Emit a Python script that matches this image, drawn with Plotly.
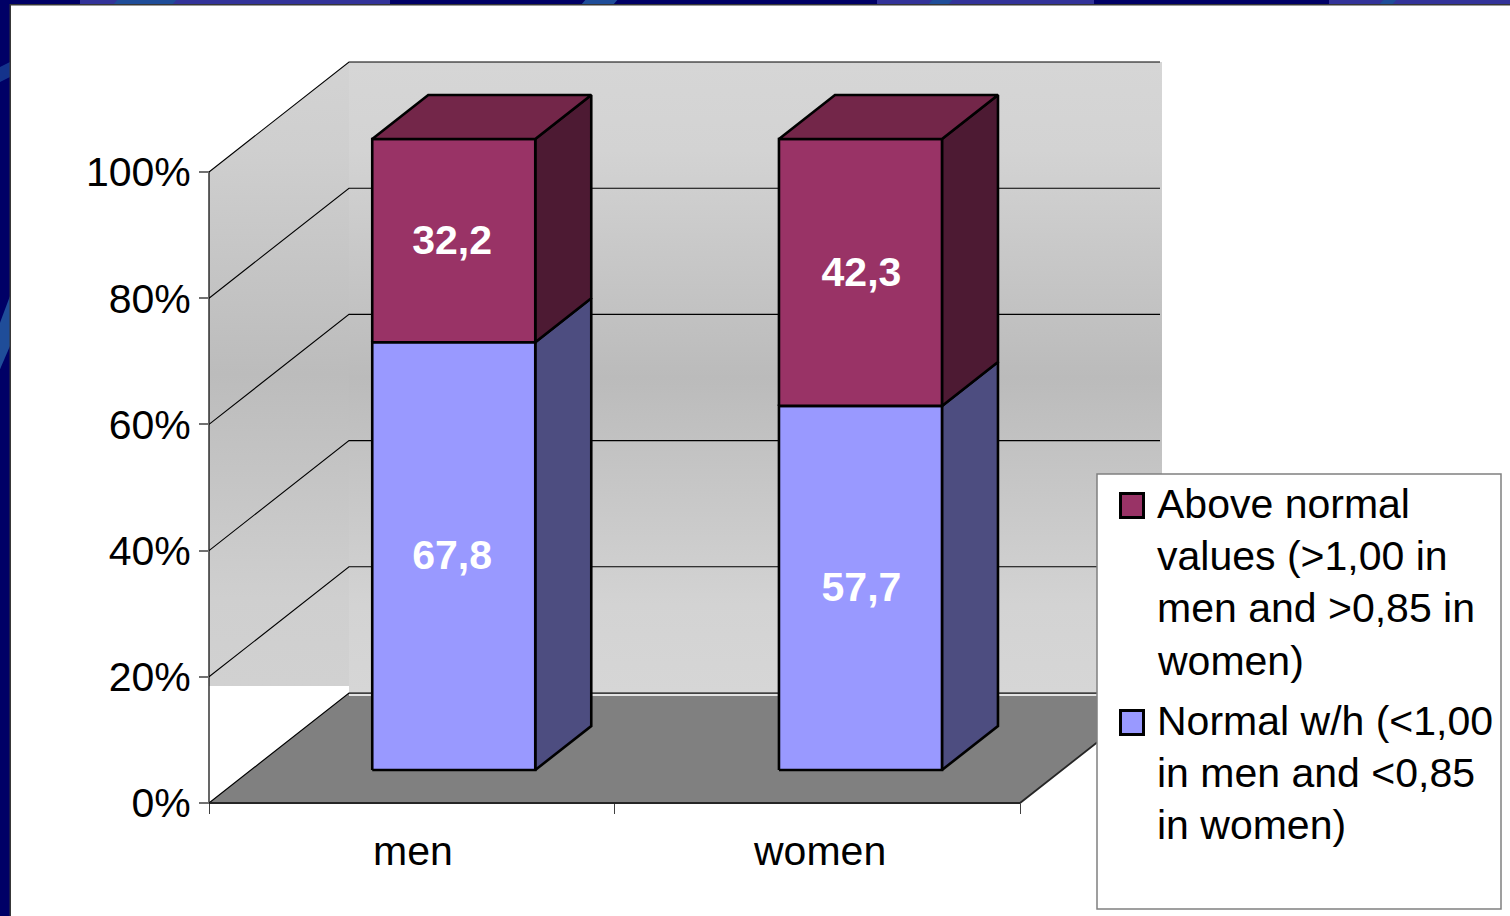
import plotly.graph_objects as go

# ---- chart data -------------------------------------------------------
categories = ["men", "women"]
normal_share = [67.8, 57.7]
above_share = [32.2, 42.3]
percent_ticks = [0, 20, 40, 60, 80, 100]
series_above = "Above normal values (>1,00 in men and >0,85 in women)"
series_normal = "Normal w/h (<1,00 in men and <0,85 in women)"
legend_above_lines = ["Above normal", "values (>1,00 in", "men and >0,85 in", "women)"]
legend_normal_lines = ["Normal w/h (<1,00", "in men and <0,85", "in women)"]

# ---- page geometry ----------------------------------------------------
W, H = 1510, 916
X0, X_CAT = 209, 405.5      # pixel of category origin, pixels per category
Y0, Y_PCT = 803, 6.31       # pixel of 0 %, pixels per percent
DEPTH_X = 140 / X_CAT       # oblique offset of the full chart depth
DEPTH_Y = 110 / Y_PCT
BAR_NEAR, BAR_FAR = 0.30, 0.70
BAR_HALF = 0.201
BAR_CENTRES = [0.5, 1.503]
CATEGORY_LABEL_AT = [0.503, 1.507]
VALUE_LABEL_NUDGE = [-1.6, 1.0]   # pixels, horizontal
VALUE_LABEL_DROP = 3              # pixels, vertical

FONT = "Liberation Sans"
FONT_SIZE = 41
INK = "#000000"
EDGE = 2.6


def px(x):
    return (x - X0) / X_CAT


def py(y):
    return (Y0 - y) / Y_PCT


def proj(x, y, d):
    """Oblique projection of a category/percent/depth point to axis units."""
    return x + d * DEPTH_X, y + d * DEPTH_Y


def poly(points, color, line=None, width=0):
    xs = [p[0] for p in points] + [points[0][0]]
    ys = [p[1] for p in points] + [points[0][1]]
    return go.Scatter(
        x=xs, y=ys, mode="lines", fill="toself", fillcolor=color,
        line=dict(color=line or color, width=width), hoverinfo="skip", showlegend=False,
    )


def path(points, color, width=1):
    return go.Scatter(
        x=[p[0] for p in points], y=[p[1] for p in points], mode="lines",
        line=dict(color=color, width=width), hoverinfo="skip", showlegend=False,
    )


def wall(points, stops):
    xs = [p[0] for p in points] + [points[0][0]]
    ys = [p[1] for p in points] + [points[0][1]]
    return go.Scatter(
        x=xs, y=ys, mode="lines", fill="toself", line=dict(width=0),
        fillgradient=dict(type="vertical", colorscale=stops),
        hoverinfo="skip", showlegend=False,
    )


fig = go.Figure()
n_cat = len(categories)
back_stops = [[0, "#d6d6d6"], [0.14, "#d3d3d3"], [0.5, "#bbbbbb"], [0.86, "#d3d3d3"], [1, "#d6d6d6"]]
side_stops = [[0, "#d1d1d1"], [0.14, "#cfcfcf"], [0.5, "#bcbcbc"], [0.86, "#cfcfcf"], [1, "#d3d3d3"]]

# Left wall stops short of the floor, leaving a white wedge beneath it
cut = py(686)
fig.add_trace(wall([proj(0, 100, 0), proj(0, 100, 1), (proj(0, 0, 1)[0], cut), (0, cut)], side_stops))
# Back wall, slightly wider than the floor
fig.add_trace(wall([proj(0, 100, 1), (px(1162), py(62)), (px(1162), py(693)), proj(0, 0, 1)], back_stops))

# Floor, with a pale seam along its far edge
fig.add_trace(poly([(0, 0), (n_cat, 0), proj(n_cat, 0, 1), proj(0, 0, 1)], "#808080"))
fig.add_trace(path([(px(349), py(695)), (px(1160), py(695))], "#e4e4e4", 2))

# Gridlines run along the left wall and across the back wall
for t in percent_ticks:
    if t == 0:
        continue
    fig.add_trace(path([(0, t), proj(0, t, 1), proj(n_cat, t, 1)], "#000000", 1.1))
fig.add_trace(path([proj(n_cat, 0, 1), proj(0, 0, 1), (0, 0)], "#000000", 1.2))
fig.add_trace(path([(0, 0), (n_cat, 0), proj(n_cat, 0, 1)], "#262626", 1.8))
fig.add_trace(path([(0, 0), (0, 100)], "#000000", 1.2))

# Stacked columns: side, top and front faces of each segment
for i in range(n_cat):
    left = BAR_CENTRES[i] - BAR_HALF
    right = BAR_CENTRES[i] + BAR_HALF
    base = 0
    segments = [(normal_share[i], "#9999ff", "#4d4d80"), (above_share[i], "#993366", "#4d1a33")]
    for value, front, side in segments:
        top = base + value
        fig.add_trace(poly([proj(right, base, BAR_NEAR), proj(right, base, BAR_FAR),
                            proj(right, top, BAR_FAR), proj(right, top, BAR_NEAR)], side, INK, EDGE))
        fig.add_trace(poly([proj(left, base, BAR_NEAR), proj(right, base, BAR_NEAR),
                            proj(right, top, BAR_NEAR), proj(left, top, BAR_NEAR)], front, INK, EDGE))
        base = top
    fig.add_trace(poly([proj(left, base, BAR_NEAR), proj(right, base, BAR_NEAR),
                        proj(right, base, BAR_FAR), proj(left, base, BAR_FAR)], "#732649", INK, EDGE))

# Value labels centred on each front face
for values, bottoms in ((normal_share, [0, 0]), (above_share, normal_share)):
    xs, ys, labels = [], [], []
    for i, v in enumerate(values):
        xs.append(proj(BAR_CENTRES[i], 0, BAR_NEAR)[0] + VALUE_LABEL_NUDGE[i] / X_CAT)
        ys.append(proj(0, bottoms[i] + v / 2, BAR_NEAR)[1] - VALUE_LABEL_DROP / Y_PCT)
        labels.append(f"{v:.1f}".replace(".", ","))
    fig.add_trace(go.Scatter(
        x=xs, y=ys, mode="text", text=labels, textposition="middle center",
        textfont=dict(family=FONT, size=FONT_SIZE, color="#ffffff", weight="bold"),
        hoverinfo="skip", showlegend=False,
    ))

# Slide frame: navy ground with lighter ribbons around a white panel
shapes = [
    dict(type="rect", xref="paper", yref="paper", x0=0, x1=1, y0=0, y1=1,
         fillcolor="#000066", line_width=0, layer="below"),
]


def frame_poly(points, color):
    d = "M" + " L".join(f"{px(x)},{py(y)}" for x, y in points) + " Z"
    shapes.append(dict(type="path", path=d, xref="x", yref="y", fillcolor=color,
                       line_width=0, layer="below"))


for a, b in ((80, 390), (877, 1094), (1329, 1512)):
    frame_poly([(a, -2), (b, -2), (b, 5), (a, 5)], "#333399")
for a, b in ((116, 175), (584, 616), (931, 951), (1382, 1395)):
    frame_poly([(a + 3, -2), (b + 3, -2), (b - 3, 5), (a - 3, 5)], "#1f4d99")
frame_poly([(-2, 68), (10, 62), (10, 77), (-2, 83)], "#14338c")
frame_poly([(-2, 328), (10, 296), (10, 346), (-2, 374)], "#1f4d99")
frame_poly([(9.5, 4), (1512, 4), (1512, 918), (9.5, 918)], "#383838")
frame_poly([(11, 5.5), (1512, 5.5), (1512, 918), (11, 918)], "#ffffff")

# Legend panel sits above the walls
shapes.append(dict(type="path", xref="x", yref="y", fillcolor="#ffffff",
                   line=dict(color="#808080", width=1.5), layer="above",
                   path=f"M{px(1097)},{py(474)} L{px(1501)},{py(474)} L{px(1501)},{py(909)} L{px(1097)},{py(909)} Z"))
for yt, yb, color in ((493.5, 517.5, "#993366"), (710.5, 734.5, "#9999ff")):
    shapes.append(dict(type="path", xref="x", yref="y", fillcolor=color,
                       line=dict(color="#000000", width=3), layer="above",
                       path=f"M{px(1120.5)},{py(yt)} L{px(1143.5)},{py(yt)} L{px(1143.5)},{py(yb)} L{px(1120.5)},{py(yb)} Z"))

annotations = []
for lines, y_start in ((legend_above_lines, 504), (legend_normal_lines, 721)):
    for k, line in enumerate(lines):
        annotations.append(dict(
            x=px(1157), y=py(y_start + 52.2 * k), xref="x", yref="y", text=line, showarrow=False,
            xanchor="left", yanchor="middle", xshift=-2, font=dict(family=FONT, size=FONT_SIZE, color=INK),
        ))

fig.update_layout(
    width=W, height=H, margin=dict(l=0, r=0, t=0, b=0), autosize=False,
    paper_bgcolor="#ffffff", plot_bgcolor="rgba(0,0,0,0)", showlegend=False,
    shapes=shapes, annotations=annotations,
    font=dict(family=FONT, size=FONT_SIZE, color=INK),
    xaxis=dict(
        range=[px(0), px(W)], domain=[0, 1], anchor="free", position=(H - Y0) / H,
        tickmode="array", tickvals=CATEGORY_LABEL_AT, ticktext=categories, ticks="", ticklen=0,
        ticklabelstandoff=20,
        tickfont=dict(family=FONT, size=FONT_SIZE), showgrid=False, zeroline=False, showline=False,
        minor=dict(tickmode="array", tickvals=[0, 1, 2], ticks="outside", ticklen=10,
                   tickcolor="#404040", tickwidth=1, showgrid=False),
    ),
    yaxis=dict(
        range=[py(H), py(0)], domain=[0, 1], anchor="free", position=X0 / W,
        tickmode="array", tickvals=percent_ticks, ticktext=[f"{t}%" for t in percent_ticks],
        ticks="outside", ticklen=10, tickcolor="#707070", tickwidth=1.5,
        tickfont=dict(family=FONT, size=FONT_SIZE), showgrid=False, zeroline=False, showline=False,
    ),
)

fig.write_html("out.html")
